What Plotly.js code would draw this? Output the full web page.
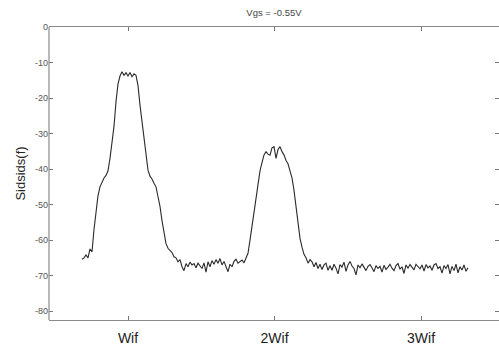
<!DOCTYPE html>
<html>
<head>
<meta charset="utf-8">
<script src="https://cdn.plot.ly/plotly-3.0.1.min.js"></script>
<style>html,body{margin:0;padding:0;background:#fff;}#chart{width:499px;height:345px;}</style>
</head>
<body>
<div id="chart"></div>
<script>
// Frequency sampling (in units of Wif)
const freqStart = 0.686;
const freqStep = 0.01365;
// Spectrum values Sidsids(f) (dB)
const sidsValues = [
-65.4,-65.0,-64.2,-65.0,-62.5,-63.3,-57.0,-52.0,-47.5,-45.0,
-43.5,-42.5,-41.8,-40.5,-37.0,-33.0,-28.0,-21.0,-16.0,-13.8,
-12.6,-13.6,-12.9,-13.8,-12.8,-14.0,-13.2,-13.6,-16.5,-22.0,
-27.0,-31.5,-36.5,-40.3,-42.0,-42.8,-44.0,-45.0,-47.8,-50.5,
-54.5,-58.5,-61.0,-62.3,-63.0,-63.5,-64.7,-65.0,-66.1,-65.5,
-67.5,-68.6,-66.6,-67.5,-66.2,-67.0,-66.6,-67.8,-66.5,-67.2,
-68.0,-66.4,-69.0,-66.1,-67.5,-65.8,-66.8,-65.5,-66.5,-65.2,
-67.0,-66.0,-67.5,-68.9,-66.8,-67.5,-66.0,-65.4,-66.5,-66.1,
-65.6,-66.4,-65.2,-63.7,-60.0,-56.0,-51.5,-48.0,-45.0,-40.5,
-38.2,-36.0,-35.1,-35.8,-36.1,-34.0,-33.7,-37.0,-34.5,-33.7,
-35.1,-36.0,-37.6,-38.5,-40.5,-42.5,-46.0,-50.5,-55.0,-59.5,
-62.0,-64.0,-65.0,-66.5,-65.5,-66.1,-67.5,-66.3,-68.0,-66.8,
-68.3,-67.0,-66.5,-68.5,-67.2,-68.5,-66.8,-67.9,-69.5,-66.9,
-67.6,-66.2,-68.8,-67.0,-66.0,-67.3,-68.0,-69.8,-67.0,-67.8,
-66.7,-67.5,-68.6,-67.4,-66.9,-67.8,-68.9,-67.2,-68.0,-67.4,
-69.0,-67.1,-68.3,-67.6,-66.8,-67.9,-68.6,-67.2,-66.6,-68.2,
-67.5,-69.4,-67.0,-67.9,-66.9,-67.6,-68.4,-66.8,-67.4,-68.1,
-67.0,-68.7,-66.9,-67.8,-67.3,-68.5,-67.0,-66.6,-68.0,-67.5,
-69.3,-67.2,-68.0,-66.9,-69.5,-67.4,-68.6,-66.8,-69.2,-67.5,
-68.4,-67.0,-68.8,-67.8
];
const freqs = sidsValues.map((_, i) => freqStart + i * freqStep);
const xTickVals = [1, 2, 3];
const xTickText = ['Wif', '2Wif', '3Wif'];
const yTickVals = [0, -10, -20, -30, -40, -50, -60, -70, -80];
const yTickText = ['0', '-10', '-20', '-30', '-40', '-50', '-60', '-70', '-80'];

const trace = {
  x: freqs, y: sidsValues, type: 'scatter', mode: 'lines',
  line: {color: '#2a2a2a', width: 1.1}, hoverinfo: 'skip'
};
const layout = {
  width: 499, height: 345,
  margin: {l: 49, r: 0, t: 27, b: 25, pad: 0},
  paper_bgcolor: '#fff', plot_bgcolor: '#fff',
  showlegend: false,
  font: {family: 'Liberation Sans, Arial, sans-serif', color: '#444'},
  title: {text: 'Vgs = -0.55V', font: {size: 9.5, color: '#444'}, x: 0.549, xanchor: 'center', y: 0.962, yanchor: 'middle'},
  xaxis: {
    range: [0.4608, 3.532], tickvals: xTickVals, ticktext: xTickText,
    ticks: 'inside', ticklen: 4, tickcolor: '#777', tickwidth: 1,
    showline: true, linecolor: '#8a8a8a', linewidth: 1.2, mirror: 'ticks',
    showgrid: false, zeroline: false, ticklabelstandoff: 5,
    tickfont: {size: 14, color: '#222'}
  },
  yaxis: {
    range: [-82.5, 0], tickvals: yTickVals, ticktext: yTickText,
    ticks: 'inside', ticklen: 4, tickcolor: '#777', tickwidth: 1,
    showline: false, mirror: 'ticks',
    showgrid: false, zeroline: false,
    tickfont: {size: 9, color: '#555'},
    title: {text: 'Sidsids(f)', font: {size: 13, color: '#222'}, standoff: 6}
  },
  shapes: [{type: 'line', xref: 'paper', yref: 'paper', x0: 0, x1: 0, y0: 0, y1: 1, line: {color: '#8a8a8a', width: 1.2}}]
};
Plotly.newPlot('chart', [trace], layout, {staticPlot: true, displayModeBar: false});
</script>
</body>
</html>
